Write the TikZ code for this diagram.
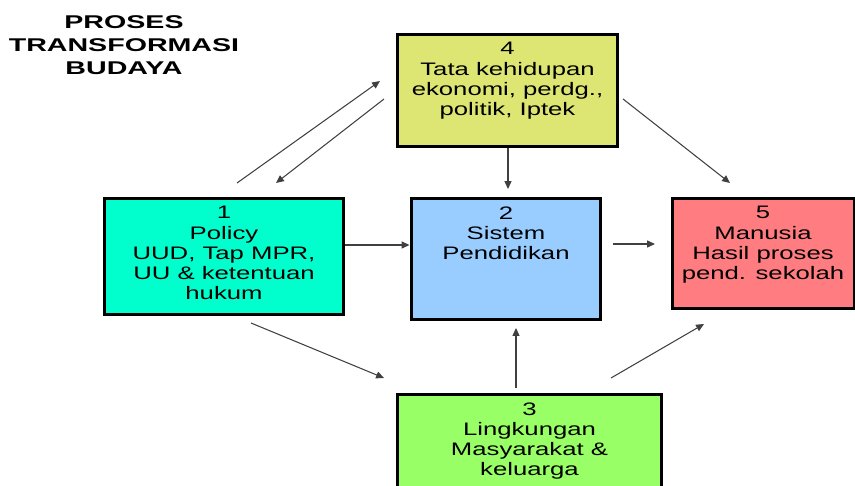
\documentclass[tikz,border=0pt]{standalone}
\usepackage{fontspec}
\usetikzlibrary{arrows.meta,positioning}
\newfontfamily\boxfont[FakeStretch=1.42]{Liberation Sans}
\newfontfamily\titlefont[FakeStretch=1.55]{Liberation Sans}

\definecolor{colA}{RGB}{0,255,204}
\definecolor{colB}{RGB}{153,204,255}
\definecolor{colC}{RGB}{153,255,102}
\definecolor{colD}{RGB}{221,230,115}
\definecolor{colE}{RGB}{255,124,128}

\tikzset{
  box/.style={draw,line width=1.7pt,inner sep=0},
  txt/.style={align=center,inner sep=0,font=\boxfont\fontsize{10.3}{11.4}\selectfont},
  arr/.style={-{Triangle[length=4.5pt,width=4pt]},line width=0.6pt,draw=black!75}
}

\begin{document}
\begin{tikzpicture}[x=0.02cm,y=-0.02cm]
  \useasboundingbox (0,0) rectangle (855,486);
  \clip (0,0) rectangle (855,486);

  \node (title) at (124,45) [align=center,inner sep=0,font=\titlefont\bfseries\fontsize{10.5}{13.2}\selectfont]{PROSES\\TRANSFORMASI\\BUDAYA};

  \node (b1) at (224,256.5) [box,fill=colA,minimum width=4.8cm,minimum height=2.34cm]{};
  \node (b2) at (506,259) [box,fill=colB,minimum width=3.8cm,minimum height=2.44cm]{};
  \node (b3) at (529.5,454) [box,fill=colC,minimum width=5.3cm,minimum height=2.4cm]{};
  \node (b4) at (507.5,90.5) [box,fill=colD,minimum width=4.42cm,minimum height=2.26cm]{};
  \node (b5) at (763,253.5) [box,fill=colE,minimum width=3.64cm,minimum height=2.22cm]{};

  \node (t1) [txt,below=5.5pt of b1.north]{1\\Policy\\UUD, Tap MPR,\\UU \& ketentuan\\hukum};
  \node (t2) [txt,below=5.5pt of b2.north]{2\\Sistem\\Pendidikan};
  \node (t3) [txt,below=5.5pt of b3.north]{3\\Lingkungan\\Masyarakat \&\\keluarga};
  \node (t4) [txt,below=5.5pt of b4.north]{4\\Tata kehidupan\\ekonomi, perdg.,\\politik, Iptek};
  \node (t5) [txt,below=5.5pt of b5.north]{5\\Manusia\\Hasil proses\\pend. sekolah};

  % free arrow ends
  \coordinate (p14s) at (237,183);
  \coordinate (p14e) at (380,81);
  \coordinate (p41s) at (384,99);
  \coordinate (p41e) at (276,183);
  \coordinate (p42e) at (508,189);
  \coordinate (p45s) at (623,99);
  \coordinate (p45e) at (730,183);
  \coordinate (p12) at (377,245);
  \coordinate (p25s) at (613,244);
  \coordinate (p25e) at (655,244);
  \coordinate (p13s) at (251,323);
  \coordinate (p13e) at (384,378);
  \coordinate (p32s) at (516,388);
  \coordinate (p32e) at (516,328);
  \coordinate (p35s) at (611,378);
  \coordinate (p35e) at (704,324);

  \draw[arr] (p14s) -- (p14e);
  \draw[arr] (p41s) -- (p41e);
  \draw[arr] (b4.south -| p42e) -- (p42e);
  \draw[arr] (p45s) -- (p45e);

  \draw[arr] (p12 -| b1.east) -- (p12 -| b2.west);
  \draw[arr] (p25s) -- (p25e);

  \draw[arr] (p13s) -- (p13e);
  \draw[arr] (p32s) -- (p32e);
  \draw[arr] (p35s) -- (p35e);

\end{tikzpicture}
\end{document}
